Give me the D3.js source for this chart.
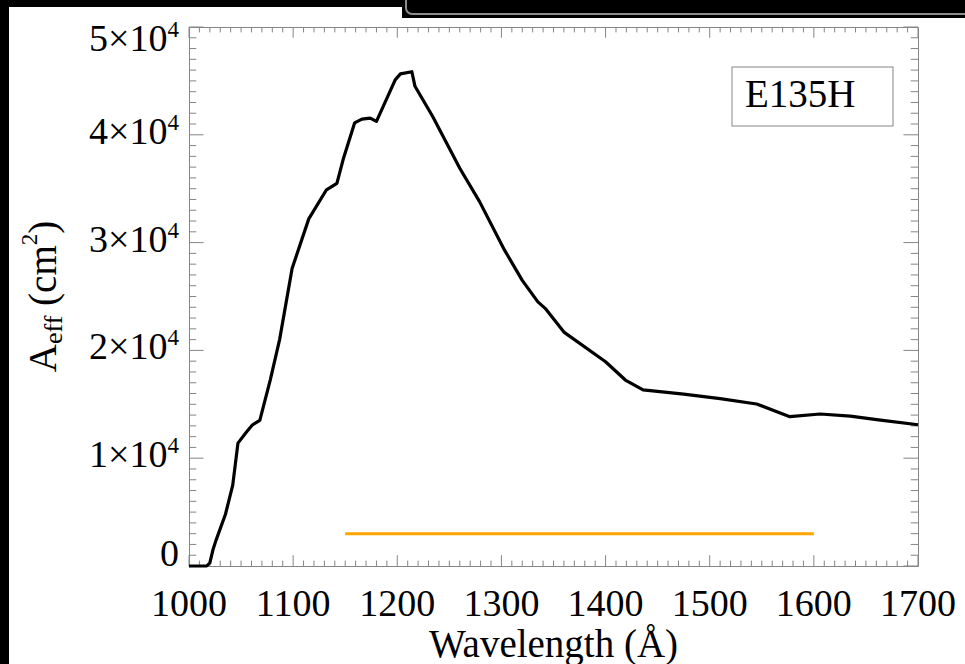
<!DOCTYPE html>
<html>
<head>
<meta charset="utf-8">
<script src="https://cdn.jsdelivr.net/npm/d3@7"></script>
<style>
  html, body { margin: 0; padding: 0; background: #000; }
  svg { display: block; }
  text { font-family: "Liberation Serif", "Times New Roman", serif; fill: #000; }
</style>
</head>
<body>
<svg id="chart" width="965" height="664"></svg>
<script>
// Effective area curve of the E135H setting (wavelength in Å, area in cm²)
const wavelength = [1000, 1010, 1017, 1020, 1023, 1026, 1035, 1042, 1047, 1055, 1061, 1068,
  1078, 1087, 1099, 1115, 1132, 1142, 1148, 1159, 1166, 1174, 1180, 1198, 1203, 1214, 1217,
  1234, 1260, 1279, 1303, 1320, 1335, 1342, 1360, 1400, 1419, 1436, 1475, 1510, 1545, 1577,
  1606, 1635, 1664, 1700];
const aeff = [0, 0, 0, 300, 1500, 2400, 4800, 7500, 11400, 12400, 13100, 13500,
  17250, 21000, 27600, 32200, 34900, 35500, 37700, 41100, 41450, 41550, 41250, 45100, 45650, 45850, 44500,
  41700, 36900, 33800, 29300, 26500, 24500, 23900, 21700, 18950, 17250, 16330, 15950, 15520, 15030, 13850,
  14100, 13910, 13540, 13100];

// Wavelength coverage bar
const coverageRange = [1150, 1600];
const coverageLevel = 3000;

// Axis ticks
const xTicks = [1000, 1100, 1200, 1300, 1400, 1500, 1600, 1700];
const yTicks = [0, 10000, 20000, 30000, 40000, 50000];
const yTickLabels = ["0", "1", "2", "3", "4", "5"];
const panelLabel = "E135H";

const svg = d3.select("#chart");
const W = 965, H = 664;
const plot = { left: 189, right: 918, top: 27, bottom: 566 };

// page background: white sheet over dark edges
svg.append("rect").attr("x", 0).attr("y", 0).attr("width", W).attr("height", H).attr("fill", "#000");
svg.append("rect").attr("x", 9).attr("y", 7).attr("width", W - 9).attr("height", H - 7).attr("fill", "#fff");
svg.append("rect").attr("x", 402).attr("y", 0).attr("width", W - 402).attr("height", 18).attr("fill", "#000");
svg.append("rect").attr("x", 406).attr("y", -20).attr("width", 600).attr("height", 34).attr("rx", 6)
  .attr("fill", "none").attr("stroke", "#8c8c8c").attr("stroke-width", 2);

const x = d3.scaleLinear().domain([1000, 1700]).range([plot.left, plot.right]);
const y = d3.scaleLinear().domain([0, 50000]).range([plot.bottom, plot.top]);

const axisColor = "#858585";
const pw = plot.right - plot.left, ph = plot.bottom - plot.top;
const xMajorLen = ph * 0.02, xMinorLen = ph * 0.01;
const yMajorLen = pw * 0.02, yMinorLen = pw * 0.01;

const xMinor = d3.range(1000, 1701, 10).filter(v => v % 100 !== 0);
const yMinor = d3.range(0, 50001, 1000).filter(v => v % 10000 !== 0);

// bottom and top axes (ticks pointing inward)
function xAxisAt(yPos, dir) {
  const g = svg.append("g").attr("transform", `translate(0,${yPos})`);
  const ax = d3.axisBottom(x).tickValues(xTicks).tickSize(0).tickFormat("");
  g.call(ax);
  g.select(".domain").attr("stroke", axisColor);
  g.selectAll(".major").data(xTicks).enter().append("line")
    .attr("x1", d => x(d)).attr("x2", d => x(d)).attr("y1", 0).attr("y2", dir * xMajorLen)
    .attr("stroke", axisColor);
  g.selectAll(".minor").data(xMinor).enter().append("line")
    .attr("x1", d => x(d)).attr("x2", d => x(d)).attr("y1", 0).attr("y2", dir * xMinorLen)
    .attr("stroke", axisColor);
}
function yAxisAt(xPos, dir) {
  const g = svg.append("g").attr("transform", `translate(${xPos},0)`);
  const ax = d3.axisLeft(y).tickValues(yTicks).tickSize(0).tickFormat("");
  g.call(ax);
  g.select(".domain").attr("stroke", axisColor);
  g.selectAll(".major").data(yTicks).enter().append("line")
    .attr("y1", d => y(d)).attr("y2", d => y(d)).attr("x1", 0).attr("x2", dir * yMajorLen)
    .attr("stroke", axisColor);
  g.selectAll(".minor").data(yMinor).enter().append("line")
    .attr("y1", d => y(d)).attr("y2", d => y(d)).attr("x1", 0).attr("x2", dir * yMinorLen)
    .attr("stroke", axisColor);
}
xAxisAt(plot.bottom, -1);
xAxisAt(plot.top, 1);
yAxisAt(plot.left, 1);
yAxisAt(plot.right, -1);

// x tick labels
svg.append("g").selectAll("text").data(xTicks).enter().append("text")
  .attr("x", d => x(d)).attr("y", 616)
  .attr("text-anchor", "middle").attr("font-size", 38)
  .text(d => d);

// y tick labels in the form k×10⁴
const yLab = svg.append("g").selectAll("text").data(yTicks).enter().append("text")
  .attr("x", 179)
  .attr("y", d => Math.max(plot.top + 24, Math.min(plot.bottom, y(d) + 9)))
  .attr("text-anchor", "end").attr("font-size", 38);
yLab.each(function (d, i) {
  const t = d3.select(this);
  if (d === 0) { t.text(yTickLabels[i]); return; }
  t.append("tspan").text(yTickLabels[i] + "×10");
  t.append("tspan").attr("font-size", 23).attr("dy", -14).text("4");
});

// effective area curve
const line = d3.line().x((d, i) => x(wavelength[i])).y(d => y(d));
svg.append("path").datum(aeff)
  .attr("d", line)
  .attr("fill", "none").attr("stroke", "#000").attr("stroke-width", 3.2)
  .attr("stroke-linejoin", "round");

// coverage bar
svg.append("line")
  .attr("x1", x(coverageRange[0])).attr("x2", x(coverageRange[1]))
  .attr("y1", y(coverageLevel)).attr("y2", y(coverageLevel))
  .attr("stroke", "#FFA500").attr("stroke-width", 3);

// panel label box
svg.append("rect").attr("x", 732).attr("y", 67).attr("width", 161).attr("height", 59)
  .attr("fill", "#fff").attr("stroke", axisColor).attr("stroke-width", 1);
svg.append("text").attr("x", 745).attr("y", 107).attr("font-size", 39).text(panelLabel);

// axis titles
svg.append("text").attr("x", (plot.left + plot.right) / 2).attr("y", 657)
  .attr("text-anchor", "middle").attr("font-size", 39).text("Wavelength (Å)");

const yt = svg.append("text")
  .attr("transform", `translate(56,${(plot.top + plot.bottom) / 2}) rotate(-90)`)
  .attr("text-anchor", "middle").attr("font-size", 39);
yt.append("tspan").text("A");
yt.append("tspan").attr("font-size", 26).attr("dy", 6).text("eff");
yt.append("tspan").attr("dy", -6).text(" (cm");
yt.append("tspan").attr("font-size", 23).attr("dy", -19).text("2");
yt.append("tspan").attr("dy", 19).text(")");
</script>
</body>
</html>
